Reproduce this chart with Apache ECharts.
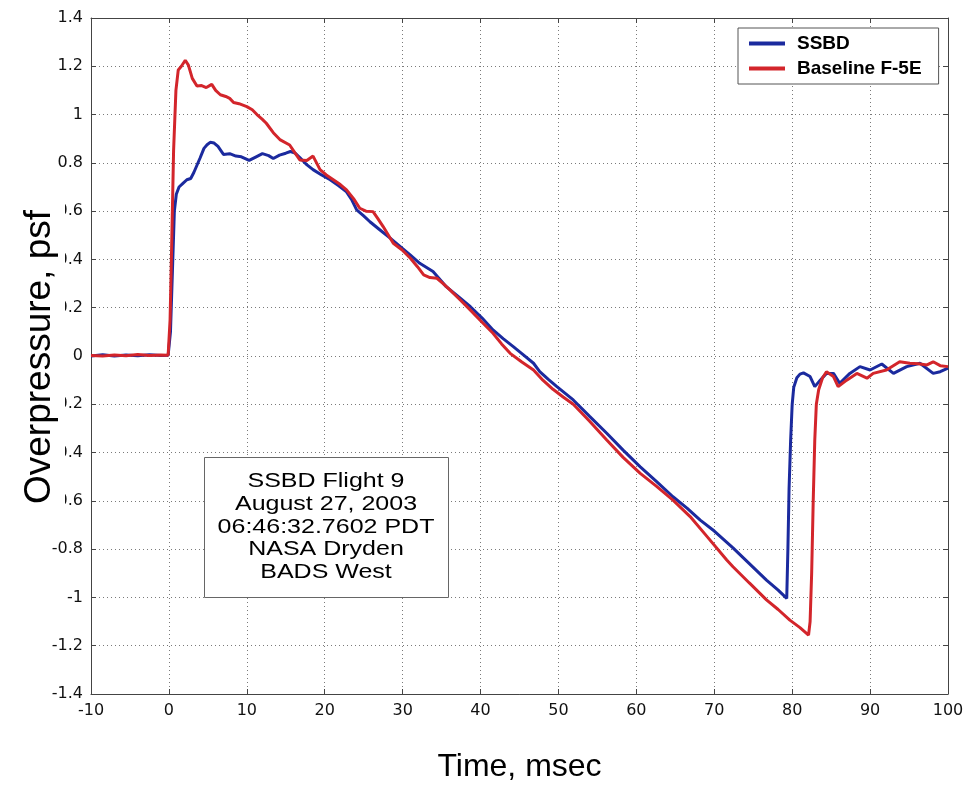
<!DOCTYPE html>
<html>
<head>
<meta charset="utf-8">
<title>SSBD Flight 9 overpressure</title>
<script src="https://cdn.jsdelivr.net/npm/echarts@6.0.0/dist/echarts.min.js"></script>
<style>
  html, body { margin: 0; padding: 0; background: #fff; }
  #chart { width: 969px; height: 785px; }
</style>
</head>
<body>
<div id="chart"></div>
<script>
// Sonic boom signatures measured at BADS West, SSBD Flight 9.
// Time (msec) and overpressure (psf) for each aircraft.
const seriesNames = ['SSBD', 'Baseline F-5E'];

const tSSBD = [-10, -8.5, -7, -5.5, -4, -2.5, -1, -0.1, 0.2, 0.45, 0.7, 0.95, 1.3, 1.8, 2.3, 2.8, 3.2, 3.6, 4.0, 4.5,
  4.9, 5.3, 5.8, 6.3, 7.0, 7.8, 8.6, 9.3, 10.3, 11.2, 12.0, 12.8, 13.4, 14.2, 15.0, 15.6, 16.2, 16.8, 17.6, 18.5,
  19.6, 20.7, 21.8, 22.8, 23.5, 24.1, 25.0, 25.8, 27.1, 28.4, 29.7, 31.0, 32.2, 33.9, 35.6, 37.2, 38.7, 40.2, 41.6, 42.9,
  44.2, 45.5, 46.8, 47.6, 48.7, 49.8, 51.9, 54.0, 56.2, 58.3, 60.5, 62.6, 64.7, 66.5, 68.2, 70.0, 72.4, 74.5, 76.7, 78.2,
  79.3, 79.45, 79.6, 79.8, 80.0, 80.2, 80.6, 81.0, 81.45, 82.3, 82.9, 83.6, 84.4, 85.3, 86.1, 87.4, 88.7, 90.0, 91.5, 93.0,
  94.7, 96.4, 98.1, 99.0, 100];
const pSSBD = [0.0, 0.005, 0.0, 0.004, 0.001, 0.005, 0.002, 0.003, 0.1, 0.35, 0.6, 0.67, 0.7, 0.715, 0.73, 0.735, 0.76, 0.79, 0.82, 0.86,
  0.875, 0.885, 0.882, 0.868, 0.835, 0.838, 0.828, 0.825, 0.81, 0.825, 0.838, 0.83, 0.818, 0.832, 0.84, 0.847, 0.84, 0.822, 0.795, 0.772,
  0.75, 0.73, 0.705, 0.68, 0.645, 0.605, 0.58, 0.556, 0.522, 0.488, 0.453, 0.418, 0.384, 0.35, 0.287, 0.245, 0.204, 0.157, 0.108, 0.072,
  0.039, 0.005, -0.03, -0.065, -0.097, -0.127, -0.182, -0.25, -0.32, -0.39, -0.459, -0.52, -0.583, -0.63, -0.68, -0.725, -0.795, -0.86, -0.928, -0.97,
  -1.004, -0.8, -0.55, -0.35, -0.2, -0.13, -0.09, -0.075, -0.07, -0.085, -0.127, -0.1, -0.072, -0.072, -0.113, -0.072, -0.044, -0.058, -0.033, -0.072,
  -0.044, -0.03, -0.072, -0.065, -0.05];

const tF5E = [-10, -8.5, -7, -5.5, -4, -2.5, -1, -0.1, 0.15, 0.35, 0.6, 0.9, 1.2, 1.6, 2.1, 2.5, 3.0, 3.6, 4.2, 4.8,
  5.5, 6.0, 6.6, 7.3, 7.8, 8.3, 9.0, 10.0, 10.7, 11.3, 12.0, 12.5, 13.4, 14.3, 15.5, 16.2, 16.8, 17.7, 18.5, 19.4,
  20.2, 21.1, 22.0, 22.8, 23.7, 24.5, 25.3, 26.2, 26.8, 27.5, 28.8, 29.9, 31.0, 31.9, 32.7, 33.5, 34.4, 35.2, 36.1, 37.4,
  38.7, 40.2, 41.6, 42.7, 43.8, 45.3, 46.8, 48.0, 49.3, 50.6, 51.9, 54.0, 56.2, 58.3, 60.5, 62.6, 64.7, 66.9, 69.0, 71.6,
  72.4, 74.5, 76.7, 78.2, 79.7, 81.0, 82.1, 82.3, 82.5, 82.7, 82.9, 83.1, 83.4, 83.9, 84.4, 85.3, 85.9, 87.0, 88.3, 89.6,
  90.4, 92.1, 93.8, 95.1, 96.2, 97.3, 98.1, 99.0, 100];
const pF5E = [0.002, 0.0, 0.004, 0.001, 0.006, 0.002, 0.004, 0.003, 0.15, 0.45, 0.85, 1.1, 1.185, 1.2, 1.225, 1.205, 1.15, 1.118, 1.12, 1.112,
  1.125, 1.1, 1.082, 1.075, 1.067, 1.05, 1.045, 1.033, 1.02, 1.0, 0.98, 0.964, 0.925, 0.895, 0.874, 0.84, 0.812, 0.81, 0.828, 0.772,
  0.75, 0.73, 0.71, 0.688, 0.652, 0.612, 0.6, 0.598, 0.57, 0.536, 0.467, 0.44, 0.405, 0.37, 0.336, 0.325, 0.322, 0.3, 0.273, 0.232,
  0.19, 0.14, 0.094, 0.05, 0.011, -0.025, -0.058, -0.1, -0.138, -0.17, -0.2, -0.27, -0.348, -0.42, -0.486, -0.54, -0.597, -0.665, -0.745, -0.845,
  -0.873, -0.94, -1.01, -1.05, -1.094, -1.125, -1.156, -1.1, -0.9, -0.6, -0.348, -0.2, -0.14, -0.09, -0.065, -0.085, -0.127, -0.1, -0.072, -0.092,
  -0.072, -0.058, -0.024, -0.03, -0.032, -0.037, -0.024, -0.04, -0.044];

// Axis ranges and tick steps
const xRange = [-10, 100], xStep = 10;
const yRange = [-1.4, 1.4], yStep = 0.2;

const noteLines = ['SSBD Flight 9', 'August 27, 2003', '06:46:32.7602 PDT', 'NASA Dryden', 'BADS West'];
const xTitle = 'Time, msec';
const yTitle = 'Overpressure, psf';

const pairs = (ts, ps) => ts.map((t, i) => [t, ps[i]]);

const tickFont = { fontFamily: 'DejaVu Sans', fontSize: 16, color: '#111' };
const dotted = { show: true, lineStyle: { color: '#7a7a7a', width: 1, type: [1, 3] } };
const frame = { show: true, onZero: false, lineStyle: { color: '#444', width: 1 } };
const inTick = { show: true, inside: true, length: 5, lineStyle: { color: '#444' } };

const chart = echarts.init(document.getElementById('chart'), null, { renderer: 'canvas' });

chart.setOption({
  animation: false,
  backgroundColor: '#fff',
  grid: { left: 91, right: 21, top: 18, bottom: 91, containLabel: false, outerBoundsMode: 'none' },
  xAxis: [
    {
      type: 'value', min: xRange[0], max: xRange[1], interval: xStep, position: 'bottom',
      axisLine: frame, axisTick: inTick, splitLine: dotted,
      axisLabel: Object.assign({ margin: 9 }, tickFont),
      name: xTitle, nameLocation: 'middle', nameGap: 57,
      nameTextStyle: { fontFamily: 'Liberation Sans', fontSize: 32, color: '#000' }
    },
    {
      type: 'value', min: xRange[0], max: xRange[1], interval: xStep, position: 'top',
      axisLine: frame, axisTick: inTick, splitLine: { show: false }, axisLabel: { show: false }
    }
  ],
  yAxis: [
    {
      type: 'value', min: yRange[0], max: yRange[1], interval: yStep, position: 'left',
      axisLine: frame, axisTick: inTick, splitLine: dotted,
      axisLabel: Object.assign({ margin: 8 }, tickFont)
    },
    {
      type: 'value', min: yRange[0], max: yRange[1], interval: yStep, position: 'right',
      axisLine: frame, axisTick: inTick, splitLine: { show: false }, axisLabel: { show: false }
    }
  ],
  legend: {
    orient: 'vertical', left: 738, top: 28,
    data: seriesNames,
    icon: 'rect', itemWidth: 36, itemHeight: 4, itemGap: 6,
    padding: [6, 17, 6, 11],
    backgroundColor: '#fff', borderColor: '#555', borderWidth: 1, borderRadius: 0,
    textStyle: { fontFamily: 'Liberation Sans', fontSize: 19, fontWeight: 'bold', color: '#000', padding: [0, 0, 0, 7] },
    z: 10
  },
  series: [
    {
      name: seriesNames[0], type: 'line', xAxisIndex: 0, yAxisIndex: 0,
      data: pairs(tSSBD, pSSBD), showSymbol: false, smooth: false,
      lineStyle: { color: '#1b2a9e', width: 3 }, itemStyle: { color: '#1b2a9e' }
    },
    {
      name: seriesNames[1], type: 'line', xAxisIndex: 0, yAxisIndex: 0,
      data: pairs(tF5E, pF5E), showSymbol: false, smooth: false,
      lineStyle: { color: '#d3252b', width: 3 }, itemStyle: { color: '#d3252b' }
    }
  ],
  graphic: [
    {
      type: 'text', z: 100, x: 40, y: 357, rotation: Math.PI / 2,
      style: {
        text: yTitle, fontFamily: 'Liberation Sans', fontSize: 37, fill: '#000',
        align: 'center', verticalAlign: 'middle', lineHeight: 38,
        backgroundColor: '#fff', padding: [6, 8, 6, 8]
      }
    },
    {
      type: 'rect', z: 50, shape: { x: 204.5, y: 457.5, width: 244, height: 140 },
      style: { fill: '#fff', stroke: '#666', lineWidth: 1 }
    },
    {
      type: 'text', z: 51, x: 326, y: 527, scaleX: 1.25,
      style: {
        text: noteLines.join('\n'), fontFamily: 'Liberation Sans', fontSize: 20, fill: '#000',
        align: 'center', verticalAlign: 'middle', lineHeight: 22.7
      }
    }
  ]
});
</script>
</body>
</html>
